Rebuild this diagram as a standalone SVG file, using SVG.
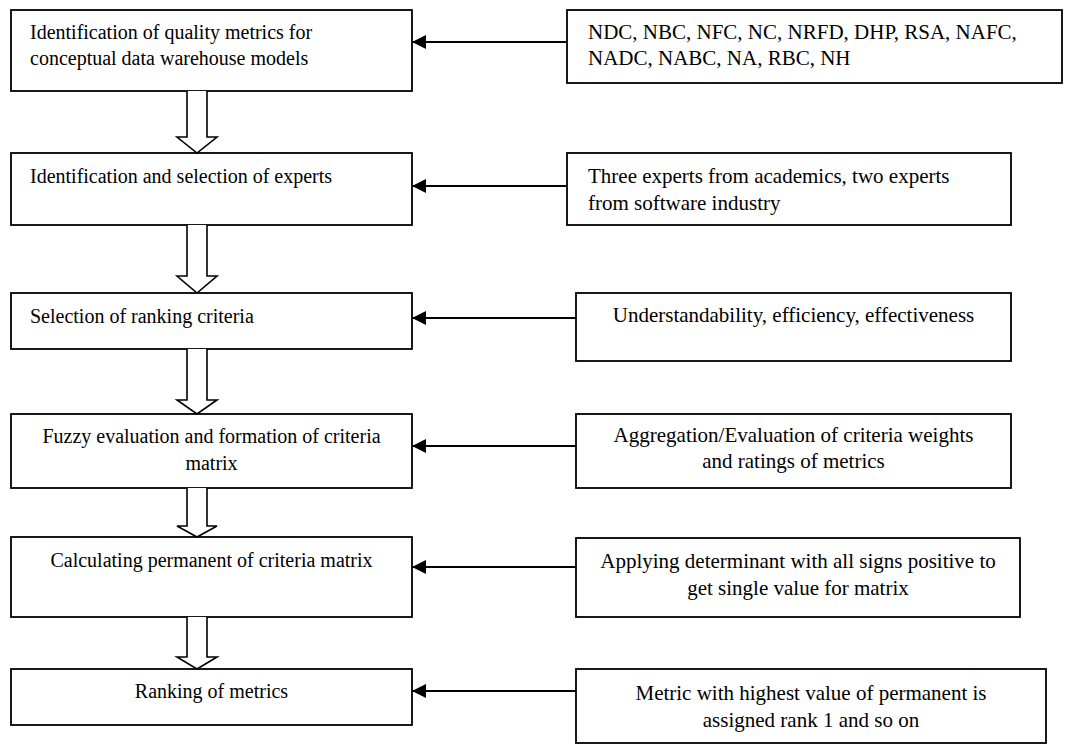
<svg xmlns="http://www.w3.org/2000/svg" width="1065" height="744" viewBox="0 0 1065 744">
  <style>
    .box { fill: #fff; stroke: #000; stroke-width: 1.8; }
    .lbl { font-family: "Liberation Serif", "Times New Roman", serif; font-size: 21px; fill: #000; }
    .step { font-size: 20px; }
    .mid { text-anchor: middle; }
    .flow { fill: #fff; stroke: #000; stroke-width: 1.6; stroke-linejoin: miter; }
    .feed { stroke: #000; stroke-width: 2; fill: none; marker-end: url(#tri); }
  </style>
  <defs>
    <marker id="tri" viewBox="0 0 14 14" refX="14" refY="7" markerWidth="14" markerHeight="14" markerUnits="userSpaceOnUse" orient="auto">
      <path d="M0,0 L14,7 L0,14 Z" fill="#000"/>
    </marker>
  </defs>
  <rect width="1065" height="744" fill="#fff"/>

  <!-- process steps -->
  <g id="step1">
    <rect class="box" x="11" y="10" width="401" height="81"/>
    <text class="lbl step" x="30" y="39">Identification of quality metrics for</text>
    <text class="lbl step" x="30" y="65">conceptual data warehouse models</text>
  </g>
  <g id="step2">
    <rect class="box" x="11" y="153" width="401" height="72"/>
    <text class="lbl step" x="30" y="183">Identification and selection of experts</text>
  </g>
  <g id="step3">
    <rect class="box" x="11" y="293" width="401" height="56"/>
    <text class="lbl step" x="30" y="323">Selection of ranking criteria</text>
  </g>
  <g id="step4">
    <rect class="box" x="11" y="414" width="401" height="74"/>
    <text class="lbl step mid" x="211.5" y="443">Fuzzy evaluation and formation of criteria</text>
    <text class="lbl step mid" x="211.5" y="470">matrix</text>
  </g>
  <g id="step5">
    <rect class="box" x="11" y="537" width="401" height="80"/>
    <text class="lbl step mid" x="211.5" y="567">Calculating permanent of criteria matrix</text>
  </g>
  <g id="step6">
    <rect class="box" x="11" y="669" width="401" height="56"/>
    <text class="lbl step mid" x="211.5" y="698">Ranking of metrics</text>
  </g>

  <!-- inputs -->
  <g id="input1">
    <rect class="box" x="567" y="10" width="495" height="73"/>
    <text class="lbl" x="588" y="39">NDC, NBC, NFC, NC, NRFD, DHP, RSA, NAFC,</text>
    <text class="lbl" x="588" y="65">NADC, NABC, NA, RBC, NH</text>
  </g>
  <g id="input2">
    <rect class="box" x="567" y="153" width="444" height="72"/>
    <text class="lbl" x="588" y="183">Three experts from academics, two experts</text>
    <text class="lbl" x="588" y="210">from software industry</text>
  </g>
  <g id="input3">
    <rect class="box" x="576" y="293" width="435" height="68"/>
    <text class="lbl mid" x="793.5" y="322">Understandability, efficiency, effectiveness</text>
  </g>
  <g id="input4">
    <rect class="box" x="576" y="414" width="435" height="74"/>
    <text class="lbl mid" x="793.5" y="442">Aggregation/Evaluation of criteria weights</text>
    <text class="lbl mid" x="793.5" y="468">and ratings of metrics</text>
  </g>
  <g id="input5">
    <rect class="box" x="576" y="538" width="444" height="79"/>
    <text class="lbl mid" x="798" y="568">Applying determinant with all signs positive to</text>
    <text class="lbl mid" x="798" y="595">get single value for matrix</text>
  </g>
  <g id="input6">
    <rect class="box" x="576" y="669" width="470" height="74"/>
    <text class="lbl mid" x="811" y="700">Metric with highest value of permanent is</text>
    <text class="lbl mid" x="811" y="727">assigned rank 1 and so on</text>
  </g>

  <!-- connectors -->
  <g id="connectors">
    <!-- hollow block arrows between steps -->
    <path class="flow" d="M187,91 V137 H177 L197,153 L217,137 H207 V91"/>
    <path class="flow" d="M187,225 V276 H177 L197,293 L217,276 H207 V225"/>
    <path class="flow" d="M187,349 V400 H177 L197,414 L217,400 H207 V349"/>
    <path class="flow" d="M187,488 V526 H177 L197,537 L217,526 H207 V488"/>
    <path class="flow" d="M187,617 V657 H177 L197,669 L217,657 H207 V617"/>
    <!-- feeds from inputs into steps -->
    <line class="feed" x1="567" y1="42" x2="412" y2="42"/>
    <line class="feed" x1="567" y1="186" x2="412" y2="186"/>
    <line class="feed" x1="576" y1="318" x2="412" y2="318"/>
    <line class="feed" x1="576" y1="446" x2="412" y2="446"/>
    <line class="feed" x1="576" y1="567" x2="412" y2="567"/>
    <line class="feed" x1="576" y1="691" x2="412" y2="691"/>
  </g>
</svg>
